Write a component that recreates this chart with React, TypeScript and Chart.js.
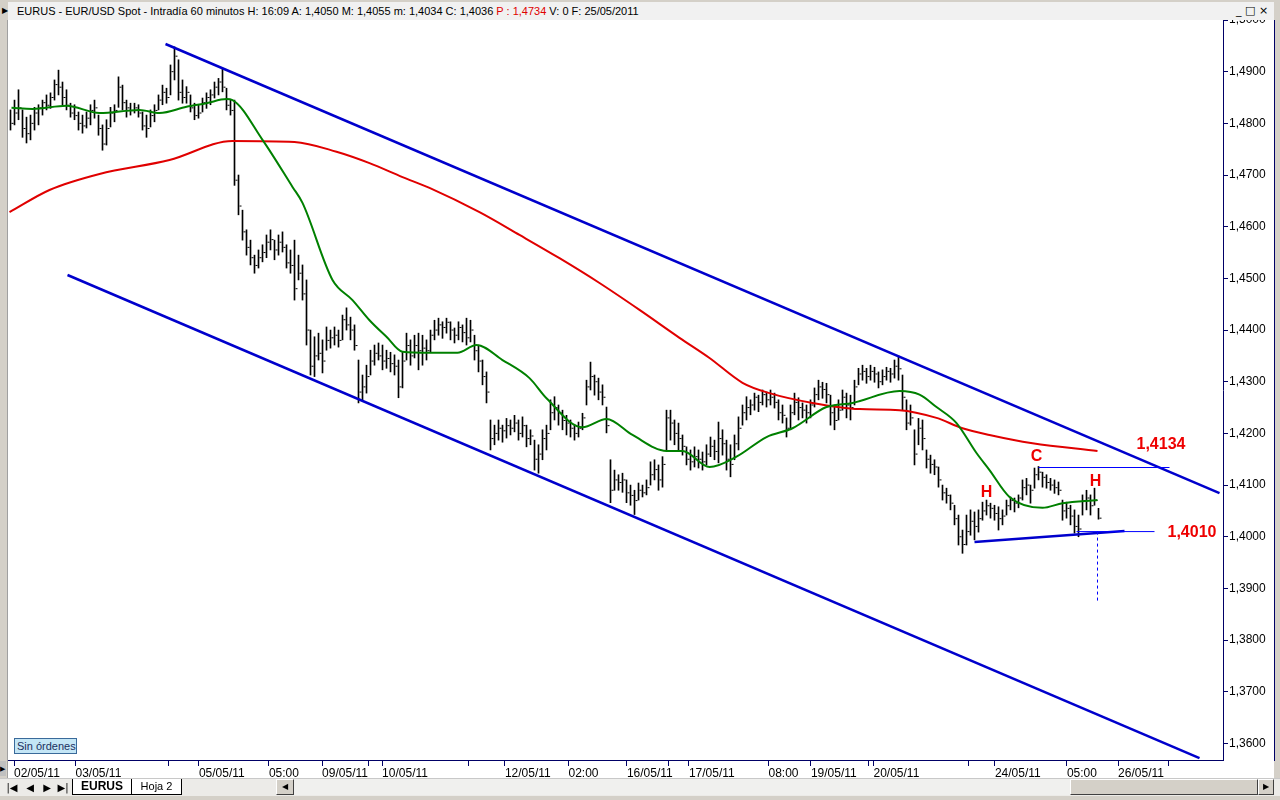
import React, { useEffect, useRef } from 'react';
import { Chart, registerables } from 'chart.js';

Chart.register(...registerables);

// Hourly EUR/USD bars, prices in pips (1 + v/10000)
const HIGH = [
  4826,4845,4865,4826,4812,4816,4831,4836,4845,4855,
  4859,4884,4903,4880,4865,4839,4836,4822,4816,4822,
  4836,4845,4816,4797,4807,4831,4836,4890,4874,4845,
  4839,4839,4836,4822,4816,4826,4836,4855,4874,4868,
  4913,4948,4923,4884,4871,4855,4839,4836,4849,4859,
  4865,4880,4887,4907,4868,4845,4845,4700,4632,4594,
  4574,4545,4555,4565,4584,4594,4574,4584,4590,4565,
  4555,4574,4545,4526,4497,4400,4387,4394,4381,4406,
  4400,4406,4400,4429,4443,4425,4410,4342,4313,4332,
  4361,4371,4375,4371,4361,4357,4352,4342,4357,4394,
  4381,4390,4394,4390,4381,4400,4419,4423,4416,4423,
  4416,4404,4416,4410,4423,4419,4390,4371,4342,4319,
  4226,4216,4226,4216,4229,4226,4235,4226,4232,4216,
  4207,4187,4178,4207,4216,4265,4271,4255,4245,4235,
  4226,4216,4222,4239,4303,4338,4313,4307,4294,4251,
  4149,4129,4120,4123,4110,4100,4090,4104,4100,4110,
  4145,4149,4139,4155,4245,4245,4226,4220,4197,4174,
  4168,4174,4168,4164,4178,4193,4187,4222,4207,4187,
  4178,4197,4232,4255,4271,4265,4278,4274,4284,4280,
  4284,4278,4265,4255,4230,4255,4278,4269,4259,4255,
  4265,4288,4303,4299,4297,4274,4255,4265,4284,4278,
  4274,4303,4326,4332,4326,4332,4328,4319,4323,4328,
  4326,4342,4350,4313,4265,4255,4207,4229,4226,4168,
  4158,4149,4135,4100,4094,4081,4061,4042,4013,4042,
  4052,4048,4052,4067,4071,4065,4061,4058,4052,4071,
  4077,4075,4081,4110,4113,4100,4133,4136,4125,4120,
  4113,4110,4106,4071,4067,4061,4052,4042,4081,4090,
  4081,4094,4055,
];
const LOW = [
  4787,4797,4807,4773,4762,4768,4787,4797,4816,4826,
  4829,4845,4855,4836,4826,4812,4807,4787,4781,4791,
  4797,4810,4777,4748,4758,4793,4803,4831,4826,4812,
  4816,4820,4812,4787,4773,4793,4803,4826,4836,4839,
  4855,4884,4845,4839,4839,4822,4807,4810,4822,4829,
  4836,4849,4855,4861,4826,4816,4680,4623,4574,4545,
  4526,4510,4520,4532,4540,4555,4536,4545,4551,4520,
  4510,4458,4497,4458,4371,4313,4310,4342,4317,4361,
  4365,4371,4367,4381,4400,4381,4361,4259,4265,4278,
  4313,4332,4342,4323,4326,4319,4313,4269,4288,4342,
  4332,4346,4323,4332,4342,4357,4381,4390,4384,4394,
  4381,4375,4381,4377,4371,4377,4342,4319,4294,4259,
  4168,4178,4187,4183,4191,4197,4203,4187,4193,4174,
  4178,4129,4123,4149,4168,4207,4226,4216,4207,4197,
  4193,4187,4193,4207,4255,4284,4274,4265,4255,4201,
  4066,4090,4090,4086,4066,4061,4043,4071,4077,4081,
  4100,4110,4090,4096,4168,4187,4178,4168,4158,4139,
  4129,4135,4133,4129,4139,4155,4149,4143,4158,4129,
  4116,4149,4168,4216,4226,4236,4245,4242,4255,4251,
  4255,4249,4226,4220,4193,4207,4236,4226,4230,4220,
  4230,4251,4265,4268,4259,4216,4207,4226,4245,4230,
  4226,4255,4294,4303,4297,4303,4299,4288,4294,4303,
  4299,4307,4303,4245,4207,4216,4139,4178,4168,4133,
  4123,4120,4096,4071,4065,4052,4023,3984,3968,3984,
  4003,3994,4009,4032,4042,4036,4032,4013,4023,4042,
  4052,4048,4056,4071,4081,4065,4094,4110,4096,4094,
  4090,4084,4081,4032,4036,4023,4007,4000,4042,4052,
  4042,4061,4034,
];
const CLOSE = [
  4800,4820,4830,4790,4780,4800,4820,4830,4840,4835,
  4850,4875,4870,4850,4835,4820,4815,4800,4795,4810,
  4825,4830,4790,4760,4790,4820,4825,4870,4840,4830,
  4825,4830,4820,4795,4790,4815,4825,4845,4860,4850,
  4900,4930,4860,4850,4860,4830,4815,4820,4840,4850,
  4855,4870,4880,4870,4835,4825,4690,4640,4590,4560,
  4540,4525,4540,4550,4570,4575,4555,4570,4560,4530,
  4525,4480,4510,4470,4400,4330,4350,4355,4340,4380,
  4385,4390,4380,4420,4410,4400,4370,4280,4290,4310,
  4340,4355,4350,4340,4345,4335,4330,4290,4340,4370,
  4350,4370,4360,4365,4360,4390,4400,4410,4405,4415,
  4400,4390,4405,4395,4385,4400,4360,4340,4310,4280,
  4190,4200,4210,4205,4215,4210,4220,4200,4215,4190,
  4195,4150,4160,4190,4200,4240,4250,4240,4225,4220,
  4210,4200,4210,4230,4290,4310,4300,4280,4270,4215,
  4090,4110,4105,4110,4085,4080,4070,4090,4085,4095,
  4120,4130,4110,4140,4230,4220,4200,4190,4175,4150,
  4145,4155,4150,4145,4160,4175,4165,4190,4180,4150,
  4140,4180,4210,4240,4250,4255,4270,4260,4275,4265,
  4270,4260,4240,4235,4210,4240,4260,4250,4245,4240,
  4255,4275,4290,4285,4275,4240,4225,4245,4270,4255,
  4250,4290,4315,4320,4310,4320,4315,4300,4310,4320,
  4315,4330,4325,4270,4220,4230,4160,4210,4190,4150,
  4140,4135,4110,4085,4080,4065,4035,4000,3985,4010,
  4030,4020,4035,4050,4060,4055,4045,4035,4040,4060,
  4070,4065,4075,4095,4100,4090,4120,4125,4115,4105,
  4100,4095,4090,4050,4055,4040,4020,4015,4070,4075,
  4060,4070,4036,
];

// Moving averages (bar index, pips)
const GREEN_X = [0.25,5.5,14,22.25,32.25,37.25,44,49,54,55.5,63,70.5,73,80.5,85.5,89.75,94,98,104.75,111.75,116.5,123,129.75,134,143,149,155.5,164,168,174.75,181.5,189,195.5,204,210.5,222.25,227.25,231.5,236.5,241.5,244.75,249.75,258,263,271.75];
const GREEN_Y = [4830,4828,4834,4820,4826,4820,4832,4839,4847,4845,4768,4677,4646,4497,4458,4419,4387,4358,4356,4356,4371,4342,4307,4268,4212,4228,4197,4166,4166,4135,4155,4193,4210,4251,4259,4282,4275,4251,4220,4162,4129,4077,4056,4065,4071];
const RED_X = [-0.25,9.75,22.25,39.75,55.5,71,81.5,89.75,98,104.75,117.25,127.25,137.25,147.25,157.25,167.25,174.75,183,189.75,200.5,212.25,222.25,231.5,238,244.75,255.5,271.75];
const RED_Y = [4628,4671,4702,4729,4766,4764,4745,4723,4696,4675,4628,4584,4539,4491,4439,4385,4346,4298,4278,4259,4247,4245,4230,4210,4197,4181,4166];

// Drawn lines (bar index, price)
const UPPER_X = [38.75, 302.25];
const UPPER_Y = [1.49536, 1.40846];
const LOWER_X = [14.25, 297.25];
const LOWER_Y = [1.45065, 1.35717];
const NECK_X = [241, 278.5];
const NECK_Y = [1.39897, 1.4011];
const LEVEL_HI_X = [257, 289.75];
const LEVEL_HI_Y = [1.4134, 1.4134];
const LEVEL_LO_X = [266.5, 286];
const LEVEL_LO_Y = [1.401, 1.401];
const TARGET_X = [271.75, 271.75];
const TARGET_Y = [1.401, 1.3872];

// Annotations
const NOTE_TEXT = ['1,4134', '1,4010', 'C', 'H', 'H'];
const NOTE_X = [281.5, 289.25, 256.5, 244, 271.25];
const NOTE_Y = [1.4181, 1.4011, 1.4158, 1.4088, 1.411];
const NOTE_ALIGN = ['left', 'left', 'center', 'center', 'center'];

// Axes
const Y_TICKS = [1.36,1.37,1.38,1.39,1.40,1.41,1.42,1.43,1.44,1.45,1.46,1.47,1.48,1.49,1.50];
const X_TICK_POS = [0.875,16.25,39.6,47.1,64.6,77.9,89.6,92.9,114.6,123.6,139.5,154.1,164.5,169.6,189.5,200.1,214.5,215.75,239.4,246.1,264.1,276.9,289.4];
const X_TICK_LABELS = ['02/05/11','03/05/11','','05/05/11','05:00','09/05/11','','10/05/11','','12/05/11','02:00','16/05/11','','17/05/11','08:00','19/05/11','','20/05/11','','24/05/11','05:00','26/05/11',''];

const px = (v: number) => 1 + v / 10000;
const fmt = (v: number) => v.toFixed(4).replace('.', ',');
const FONT = '"Liberation Sans", Arial, sans-serif';
const NAVY = '#000066';
const BLUE = '#0000cc';
const THIN_BLUE = '#0000ff';

const notesPlugin = {
  id: 'notes',
  afterDatasetsDraw(chart: any) {
    const { ctx, scales } = chart;
    const x = scales.x, y = scales.y;
    ctx.save();
    ctx.font = 'bold 16px ' + FONT;
    ctx.fillStyle = '#ee0000';
    ctx.textBaseline = 'alphabetic';
    NOTE_TEXT.forEach((t, k) => {
      ctx.textAlign = NOTE_ALIGN[k];
      ctx.fillText(t, x.getPixelForValue(NOTE_X[k]), y.getPixelForValue(NOTE_Y[k]) + 6);
    });
    ctx.restore();
  },
};

function line(xs: number[], ys: number[], color: string, width: number, order: number, extra: any = {}) {
  return {
    type: 'line',
    data: xs.map((x, k) => ({ x, y: ys[k] })),
    borderColor: color,
    backgroundColor: color,
    borderWidth: width,
    pointRadius: 0,
    fill: false,
    order,
    ...extra,
  };
}

function PriceChart() {
  const ref = useRef<HTMLCanvasElement>(null);
  useEffect(() => {
    if (!ref.current) return;
    const bars = HIGH.map((h, i) => ({ x: i, y: [px(LOW[i]), px(h)] }));
    const closes = CLOSE.map((c, i) => ({ x: i + 0.5, y: px(c) }));
    const chart = new Chart(ref.current, {
      type: 'bar',
      data: {
        datasets: [
          line(LEVEL_HI_X, LEVEL_HI_Y, THIN_BLUE, 1, 1),
          line(LEVEL_LO_X, LEVEL_LO_Y, THIN_BLUE, 1, 1),
          line(TARGET_X, TARGET_Y, THIN_BLUE, 1, 1, { borderDash: [3, 3] }),
          line(NECK_X, NECK_Y, BLUE, 2.5, 2),
          line(UPPER_X, UPPER_Y, BLUE, 2.5, 2),
          line(LOWER_X, LOWER_Y, BLUE, 2.5, 2),
          line(GREEN_X, GREEN_Y.map(px), '#008000', 2, 4, { cubicInterpolationMode: 'monotone' }),
          line(RED_X, RED_Y.map(px), '#e00000', 2, 5, { cubicInterpolationMode: 'monotone' }),
          {
            type: 'scatter',
            data: closes,
            pointStyle: 'line',
            pointRadius: 1,
            borderColor: '#000',
            borderWidth: 1,
            order: 9,
          },
          {
            type: 'bar',
            data: bars,
            backgroundColor: '#000',
            borderWidth: 0,
            barThickness: 1,
            order: 10,
          },
        ] as any,
      },
      options: {
        responsive: false,
        animation: false,
        devicePixelRatio: 1,
        layout: { padding: { left: 8, top: 20, right: 6, bottom: 22 } },
        plugins: { legend: { display: false }, tooltip: { enabled: false } },
        scales: {
          x: {
            type: 'linear',
            min: -0.625,
            max: 303.125,
            offset: false,
            afterBuildTicks: (s: any) => { s.ticks = X_TICK_POS.map((v) => ({ value: v })); },
            afterFit: (s: any) => { s.height = 18; },
            grid: { drawOnChartArea: false, offset: false, tickLength: 6, color: NAVY },
            border: { display: true, color: NAVY },
            ticks: {
              align: 'start',
              autoSkip: false,
              maxRotation: 0,
              minRotation: 0,
              padding: 0,
              color: '#000',
              font: { family: FONT, size: 12 },
              callback: (_v: any, idx: number) => X_TICK_LABELS[idx],
            },
          },
          y: {
            type: 'linear',
            position: 'right',
            min: 1.3568,
            max: 1.5,
            afterBuildTicks: (s: any) => { s.ticks = Y_TICKS.map((v) => ({ value: v })); },
            afterFit: (s: any) => { s.width = 51; },
            grid: { drawOnChartArea: false, tickLength: 5, color: NAVY },
            border: { display: true, color: NAVY },
            ticks: {
              padding: 1,
              color: '#000',
              font: { family: FONT, size: 12 },
              callback: (v: any) => fmt(Number(v)),
            },
          },
        },
      } as any,
      plugins: [notesPlugin],
    });
    return () => chart.destroy();
  }, []);
  return <canvas ref={ref} width={1280} height={800} style={{ position: 'absolute', left: 0, top: 0, width: 1280, height: 800 }} />;
}

const abs = (l: number, t: number, w: number, h: number, extra: any = {}) => ({
  position: 'absolute' as const, left: l, top: t, width: w, height: h, boxSizing: 'border-box' as const, ...extra,
});

const raised = { background: '#d4d0c8', borderTop: '1px solid #fff', borderLeft: '1px solid #fff', borderRight: '1px solid #404040', borderBottom: '1px solid #404040' };

export default function App() {
  return (
    <div style={{ position: 'absolute', left: 0, top: 0, width: 1280, height: 800, overflow: 'hidden', background: '#d4d0c8', fontFamily: FONT }}>
      <div style={abs(0, 0, 8, 800, { background: '#d4d0c8', borderRight: '1px solid #a0a0a0' })} />
      <div style={abs(8, 20, 1266, 758, { background: '#fff' })} />
      <PriceChart />
      <div style={abs(1274, 20, 1, 741, { background: NAVY })} />
      {/* header */}
      <div style={abs(0, 0, 1280, 20, { background: '#d4d0c8' })} />
      <div style={abs(8, 2, 1266, 18, { background: '#f1f1f1', fontSize: 11, lineHeight: '18px', whiteSpace: 'pre', paddingLeft: 9, color: '#000' })}>
        {'EURUS - EUR/USD Spot - Intradía 60 minutos H: 16:09 A: 1,4050 M: 1,4055 m: 1,4034 C: 1,4036 '}
        <span style={{ color: '#e00000' }}>P : 1,4734</span>
        {' V: 0 F: 25/05/2011'}
      </div>
      <div style={abs(2, 6, 6, 10, { fontSize: 8, lineHeight: '10px', color: '#000' })}>▶</div>
      <div style={abs(1236, 4, 36, 14, { fontSize: 11, lineHeight: '14px', whiteSpace: 'pre', color: '#000', fontFamily: '"DejaVu Sans", sans-serif' })}>{'_ □ ×'}</div>
      {/* Sin órdenes */}
      <div style={abs(14, 738, 63, 16, { background: '#c4e6f6', border: '1px solid #3a6a9a', fontSize: 11, lineHeight: '14px', paddingLeft: 2, color: '#1a3060', whiteSpace: 'pre' })}>Sin órdenes</div>
      <div style={abs(0, 761, 6, 15, { background: '#c0c0c0', fontSize: 7, lineHeight: '15px', color: '#000' })}>▶</div>
      {/* tab bar */}
      <div style={abs(0, 778, 1280, 18, { background: '#ecebe8', borderTop: '1px solid #c8c8c8' })} />
      {[['|◀', 4], ['◀', 22], ['▶', 39], ['▶|', 55]].map(([t, l], k) => (
        <div key={k} style={abs(l as number, 780, 16, 15, { fontSize: 10, lineHeight: '15px', textAlign: 'center', fontFamily: '"DejaVu Sans", sans-serif', color: '#000' })}>{t}</div>
      ))}
      <div style={abs(72, 779, 60, 16, { background: '#fff', borderLeft: '1px solid #000', borderRight: '1px solid #000', borderBottom: '1px solid #000', fontSize: 12, fontWeight: 'bold', lineHeight: '15px', textAlign: 'center' })}>EURUS</div>
      <div style={abs(132, 779, 50, 16, { background: '#fff', borderRight: '1px solid #000', borderBottom: '1px solid #000', fontSize: 11, lineHeight: '15px', textAlign: 'center' })}>Hoja 2</div>
      <div style={abs(276, 779, 18, 16, { ...raised, fontSize: 8, lineHeight: '14px', textAlign: 'center', fontFamily: '"DejaVu Sans", sans-serif' })}>◀</div>
      <div style={abs(294, 779, 776, 16, { background: '#f0f0ee' })} />
      <div style={abs(1070, 779, 188, 16, raised)} />
      <div style={abs(1258, 779, 16, 16, { ...raised, fontSize: 8, lineHeight: '14px', textAlign: 'center', fontFamily: '"DejaVu Sans", sans-serif' })}>▶</div>
      <div style={abs(0, 796, 1280, 4, { background: '#d4d0c8' })} />
    </div>
  );
}
